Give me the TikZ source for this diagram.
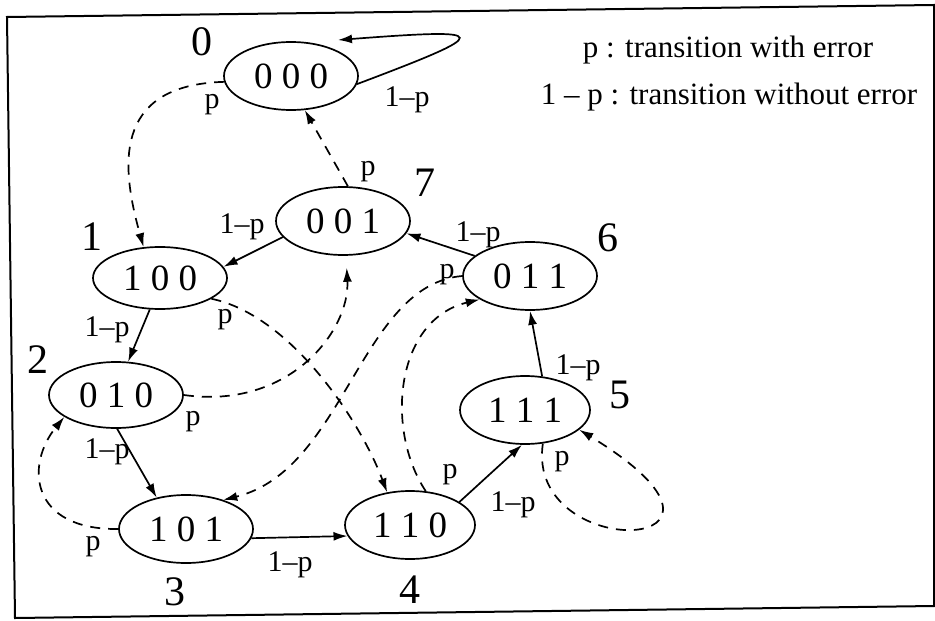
\documentclass[tikz,border=0pt]{standalone}
\usepackage{fontspec}
\setmainfont{Liberation Serif}
\usetikzlibrary{positioning, arrows.meta, shapes.geometric}

\begin{document}
\begin{tikzpicture}[
                x=0.5pt, y=-0.5pt,
                >={Latex[length=7pt, width=4.5pt]},
                state/.style={ellipse, draw, line width=0.85pt, inner sep=0pt, minimum width=67pt, minimum height=34pt, font=\fontsize{18.5}{18.5}\selectfont},
                num/.style={inner sep=0pt, font=\fontsize{21}{21}\selectfont},
                lbl/.style={inner sep=0pt, font=\fontsize{15}{15}\selectfont},
                legend/.style={inner sep=0pt, anchor=base, font=\fontsize{15.5}{15.5}\selectfont},
                ok/.style={->, line width=0.85pt},
                err/.style={->, line width=0.85pt, dash pattern=on 5pt off 4pt}
            ]
                \useasboundingbox (0,0) rectangle (935,620);

                % Frame
                \draw[line width=1pt] (7,17) -- (934,5) -- (934,606) -- (15,618) -- cycle;

                % Nodes
                \node[state] (s000) at (291,76) {0 0 0};
                \node[state] (s001) at (343,221) {0 0 1};
                \node[state, minimum height=31pt] (s100) at (160,278) {1 0 0};
                \node[state, minimum height=33pt] (s010) at (116,395) {0 1 0};
                \node[state] (s101) at (186,529) {1 0 1};
                \node[state, minimum width=65pt] (s110) at (410,525) {1 1 0};
                \node[state, minimum width=65pt] (s111) at (525,410) {1 1 1};
                \node[state] (s011) at (530,276) {0 1 1};
                \coordinate (loop0) at (338,40);

                % State numbers
                \node[num] (n0) at (202,42) {0};
                \node[num] (n1) at (92,237) {1};
                \node[num] (n2) at (38,360) {2};
                \node[num] (n3) at (175,592) {3};
                \node[num] (n4) at (410,590) {4};
                \node[num] (n5) at (620,395) {5};
                \node[num] (n6) at (608,238) {6};
                \node[num] (n7) at (425,183) {7};

                % Legend
                \node[legend] (leg1) at (728,58) {p : transition with error};
                \node[legend] (leg2) at (729,105) {1 -- p : transition without error};

                % Path connections without error
                \draw[ok] (s000.-7) .. controls (495,32) and (495,28) .. (loop0);
                \draw[ok] (s001.195) -- (s100.10);
                \draw[ok] (s011.160) -- (s001.-11);
                \draw[ok] (s111.63) -- (s011.-90);
                \draw[ok] (s110.25) -- (s111.-95);
                \draw[ok] (s101.-8) -- (s110.190);
                \draw[ok] (s100.-108) -- (s010.70);
                \draw[ok] (s010.-88) -- (s101.133);

                % Path connections with error
                \draw[err] (s000.185) .. controls (110,85) and (122,170) .. (s100.118);
                \draw[err] (s001.82) -- (s000.-68);
                \draw[err] (s101.west) .. controls (30,530) and (25,465) .. (s010.203);
                \draw[err, shorten >=6pt] (s010.east) .. controls (290,410) and (350,330) .. (s001.-85);
                \draw[err] (s100.-22) .. controls (290,315) and (360,420) .. (s110.125);
                \draw[err] (s011.west) .. controls (360,285) and (345,470) .. (s101.38);
                \draw[err] (s110.65) .. controls (385,430) and (395,320) .. (s011.205);
                \draw[err] (s111.-62) .. controls (525,565) and (785,555) .. (s111.-20);

                % Labels
                \node[lbl] (l00) at (407,100) {1--p};
                \node[lbl] (l01) at (212,105) {p};
                \node[lbl] (l70) at (368,172) {p};
                \node[lbl] (l71) at (242,227) {1--p};
                \node[lbl] (l67) at (478,235) {1--p};
                \node[lbl] (l63) at (447,275) {p};
                \node[lbl] (l56) at (578,368) {1--p};
                \node[lbl] (l12) at (107,330) {1--p};
                \node[lbl] (l14) at (225,320) {p};
                \node[lbl] (l27) at (193,422) {p};
                \node[lbl] (l23) at (107,452) {1--p};
                \node[lbl] (l32) at (93,547) {p};
                \node[lbl] (l34) at (290,565) {1--p};
                \node[lbl] (l46) at (450,475) {p};
                \node[lbl] (l45) at (513,505) {1--p};
                \node[lbl] (l55) at (562,462) {p};
            \end{tikzpicture}
\end{document}
